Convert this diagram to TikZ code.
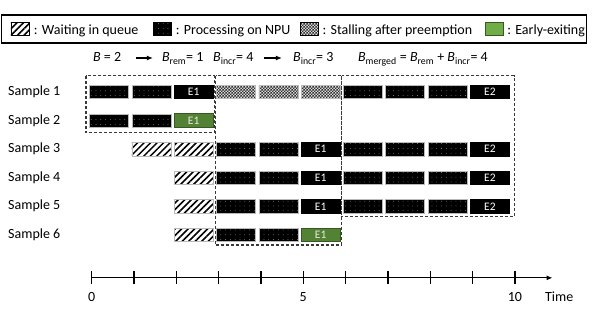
\documentclass[tikz,border=0pt]{standalone}
\usepackage{fontspec}
\setmainfont{Carlito}
\usetikzlibrary{arrows.meta, positioning, patterns, patterns.meta}
\definecolor{exitgreen}{RGB}{84,130,53}
\definecolor{exitgreendark}{RGB}{56,87,35}
\definecolor{legendgreen}{RGB}{112,173,71}
\newcommand{\Bsub}[1]{\textit{B}\textsubscript{#1}}
\pgfdeclarepatternformonly{finechecker}{\pgfpointorigin}{\pgfqpoint{3pt}{3pt}}{\pgfqpoint{3pt}{3pt}}{
  \pgfpathrectangle{\pgfpointorigin}{\pgfqpoint{1.5pt}{1.5pt}}
  \pgfpathrectangle{\pgfqpoint{1.5pt}{1.5pt}}{\pgfqpoint{1.5pt}{1.5pt}}
  \pgfusepath{fill}}

\begin{document}
\begin{tikzpicture}[
  x=42.33pt, y=-28.6pt,
  waitfill/.style={preaction={fill=white}, pattern={Lines[angle=45, distance=4.6pt, line width=1.5pt]}, pattern color=black},
  procfill/.style={preaction={fill=black}, pattern={Dots[distance=4.8pt, radius=0.4pt]}, pattern color=gray!70},
  stallfill/.style={preaction={fill=gray!30}, pattern=finechecker, pattern color=black!80},
  blk/.style={rectangle, minimum width=39pt, minimum height=13.5pt, inner sep=0pt, draw=gray!55, line width=0.6pt},
  waitbox/.style={blk, waitfill},
  procbox/.style={blk, procfill},
  stallbox/.style={blk, stallfill},
  exitbox/.style={blk, fill=black, draw=black, text=white, font=\fontsize{11.5}{12}\selectfont},
  greenbox/.style={blk, fill=exitgreen, draw=exitgreendark, line width=0.9pt, text=white!85!exitgreen, font=\fontsize{11.5}{12}\selectfont},
  legsw/.style={rectangle, minimum width=18pt, minimum height=13pt, inner sep=0pt, draw=black, line width=0.6pt},
  legtxt/.style={inner sep=0pt, text height=11pt, text depth=0pt, font=\fontsize{14}{16}\selectfont},
  hdr/.style={anchor=west, inner sep=0pt, text height=11pt, text depth=3pt, font=\fontsize{14}{16}\selectfont},
  harr/.style={-{Latex[length=6pt, width=5pt]}, line width=1.2pt},
  grp/.style={densely dashed, line width=1.1pt, draw=gray!45!black},
  samplelbl/.style={anchor=west, inner sep=0pt, text height=10pt, text depth=3pt, font=\fontsize{14}{16}\selectfont},
  axlbl/.style={inner sep=0pt, font=\fontsize{14}{16}\selectfont}
]
  \useasboundingbox (-2.166,-2.217) rectangle (11.822,9.182);

  % legend
  \draw[line width=1.2pt] (-2.126,-1.692) rectangle (11.70,-0.713);
  \node[legsw, waitfill] (lwait) at (-1.694,-1.203) {};
  \node[legtxt, right=4pt of lwait] (twait) {: Waiting in queue};
  \node[legsw, procfill] (lproc) at (1.672,-1.203) {};
  \node[legtxt, right=4pt of lproc] (tproc) {: Processing on NPU};
  \node[legsw, stallfill] (lstall) at (5.14,-1.203) {};
  \node[legtxt, right=4pt of lstall] (tstall) {: Stalling after preemption};
  \node[legsw, fill=legendgreen, draw=exitgreendark] (lexit) at (9.504,-1.203) {};
  \node[legtxt, right=4pt of lexit] (texit) {: Early-exiting};

  % batch sizes
  \node[hdr] (bfull) at (0.031,-0.189) {\textit{B} = 2};
  \node[hdr] (brem) at (1.66,-0.189) {\Bsub{rem}= 1};
  \node[hdr] (bincr) at (2.866,-0.189) {\Bsub{incr}= 4};
  \node[hdr] (bincrb) at (4.756,-0.189) {\Bsub{incr}= 3};
  \node[hdr] (bmerged) at (6.29,-0.189) {\Bsub{merged} = \Bsub{rem} + \Bsub{incr}= 4};
  \draw[harr, shorten <=15pt, shorten >=9pt] (bfull) -- (brem);
  \draw[harr, shorten <=10pt, shorten >=11pt] (bincr) -- (bincrb);

  % samples
  \foreach \r in {1,...,6}
    \node[samplelbl] (s\r) at (-1.977,\r) {Sample \r};

  \foreach \r/\t in {3/1,3/2,4/2,5/2,6/2}
    \node[waitbox] (b\r-\t) at (\t+0.41,\r) {};
  \foreach \r/\t in {1/0,1/1,1/6,1/7,1/8,2/0,2/1,3/3,3/4,3/6,3/7,3/8,
                     4/3,4/4,4/6,4/7,4/8,5/3,5/4,5/6,5/7,5/8,6/3,6/4}
    \node[procbox] (b\r-\t) at (\t+0.41,\r) {};
  \foreach \t in {3,4,5}
    \node[stallbox] (b1-\t) at (\t+0.41,1) {};
  \foreach \r/\t/\e in {1/2/E1,3/5/E1,4/5/E1,5/5/E1,1/9/E2,3/9/E2,4/9/E2,5/9/E2}
    \node[exitbox] (b\r-\t) at (\t+0.41,\r) {\e};
  \node[greenbox] (b2-2) at (2.41,2) {E1};
  \node[greenbox] (b6-5) at (5.41,6) {E1};

  % batches
  \draw[grp] (-0.134,0.43) rectangle (2.896,2.42);
  \draw[grp] (2.93,0.43) rectangle (5.906,6.35);
  \draw[grp] (5.906,0.43) rectangle (9.983,5.37);

  % time axis
  \coordinate (t0) at (0,7.5);
  \coordinate (tend) at (10.89,7.5);
  \draw[-{Latex[length=6pt, width=5pt]}, line width=1.2pt] (t0) -- (tend);
  \foreach \t in {0,...,10}
    \draw[line width=1.4pt] (\t,7.273) -- (\t,7.727);
  \node[axlbl] (l0) at (0,8.17) {0};
  \node[axlbl] (l5) at (5,8.17) {5};
  \node[axlbl] (l10) at (10,8.17) {10};
  \node[axlbl, anchor=west] (ltime) at (10.71,8.17) {Time};
\end{tikzpicture}
\end{document}
